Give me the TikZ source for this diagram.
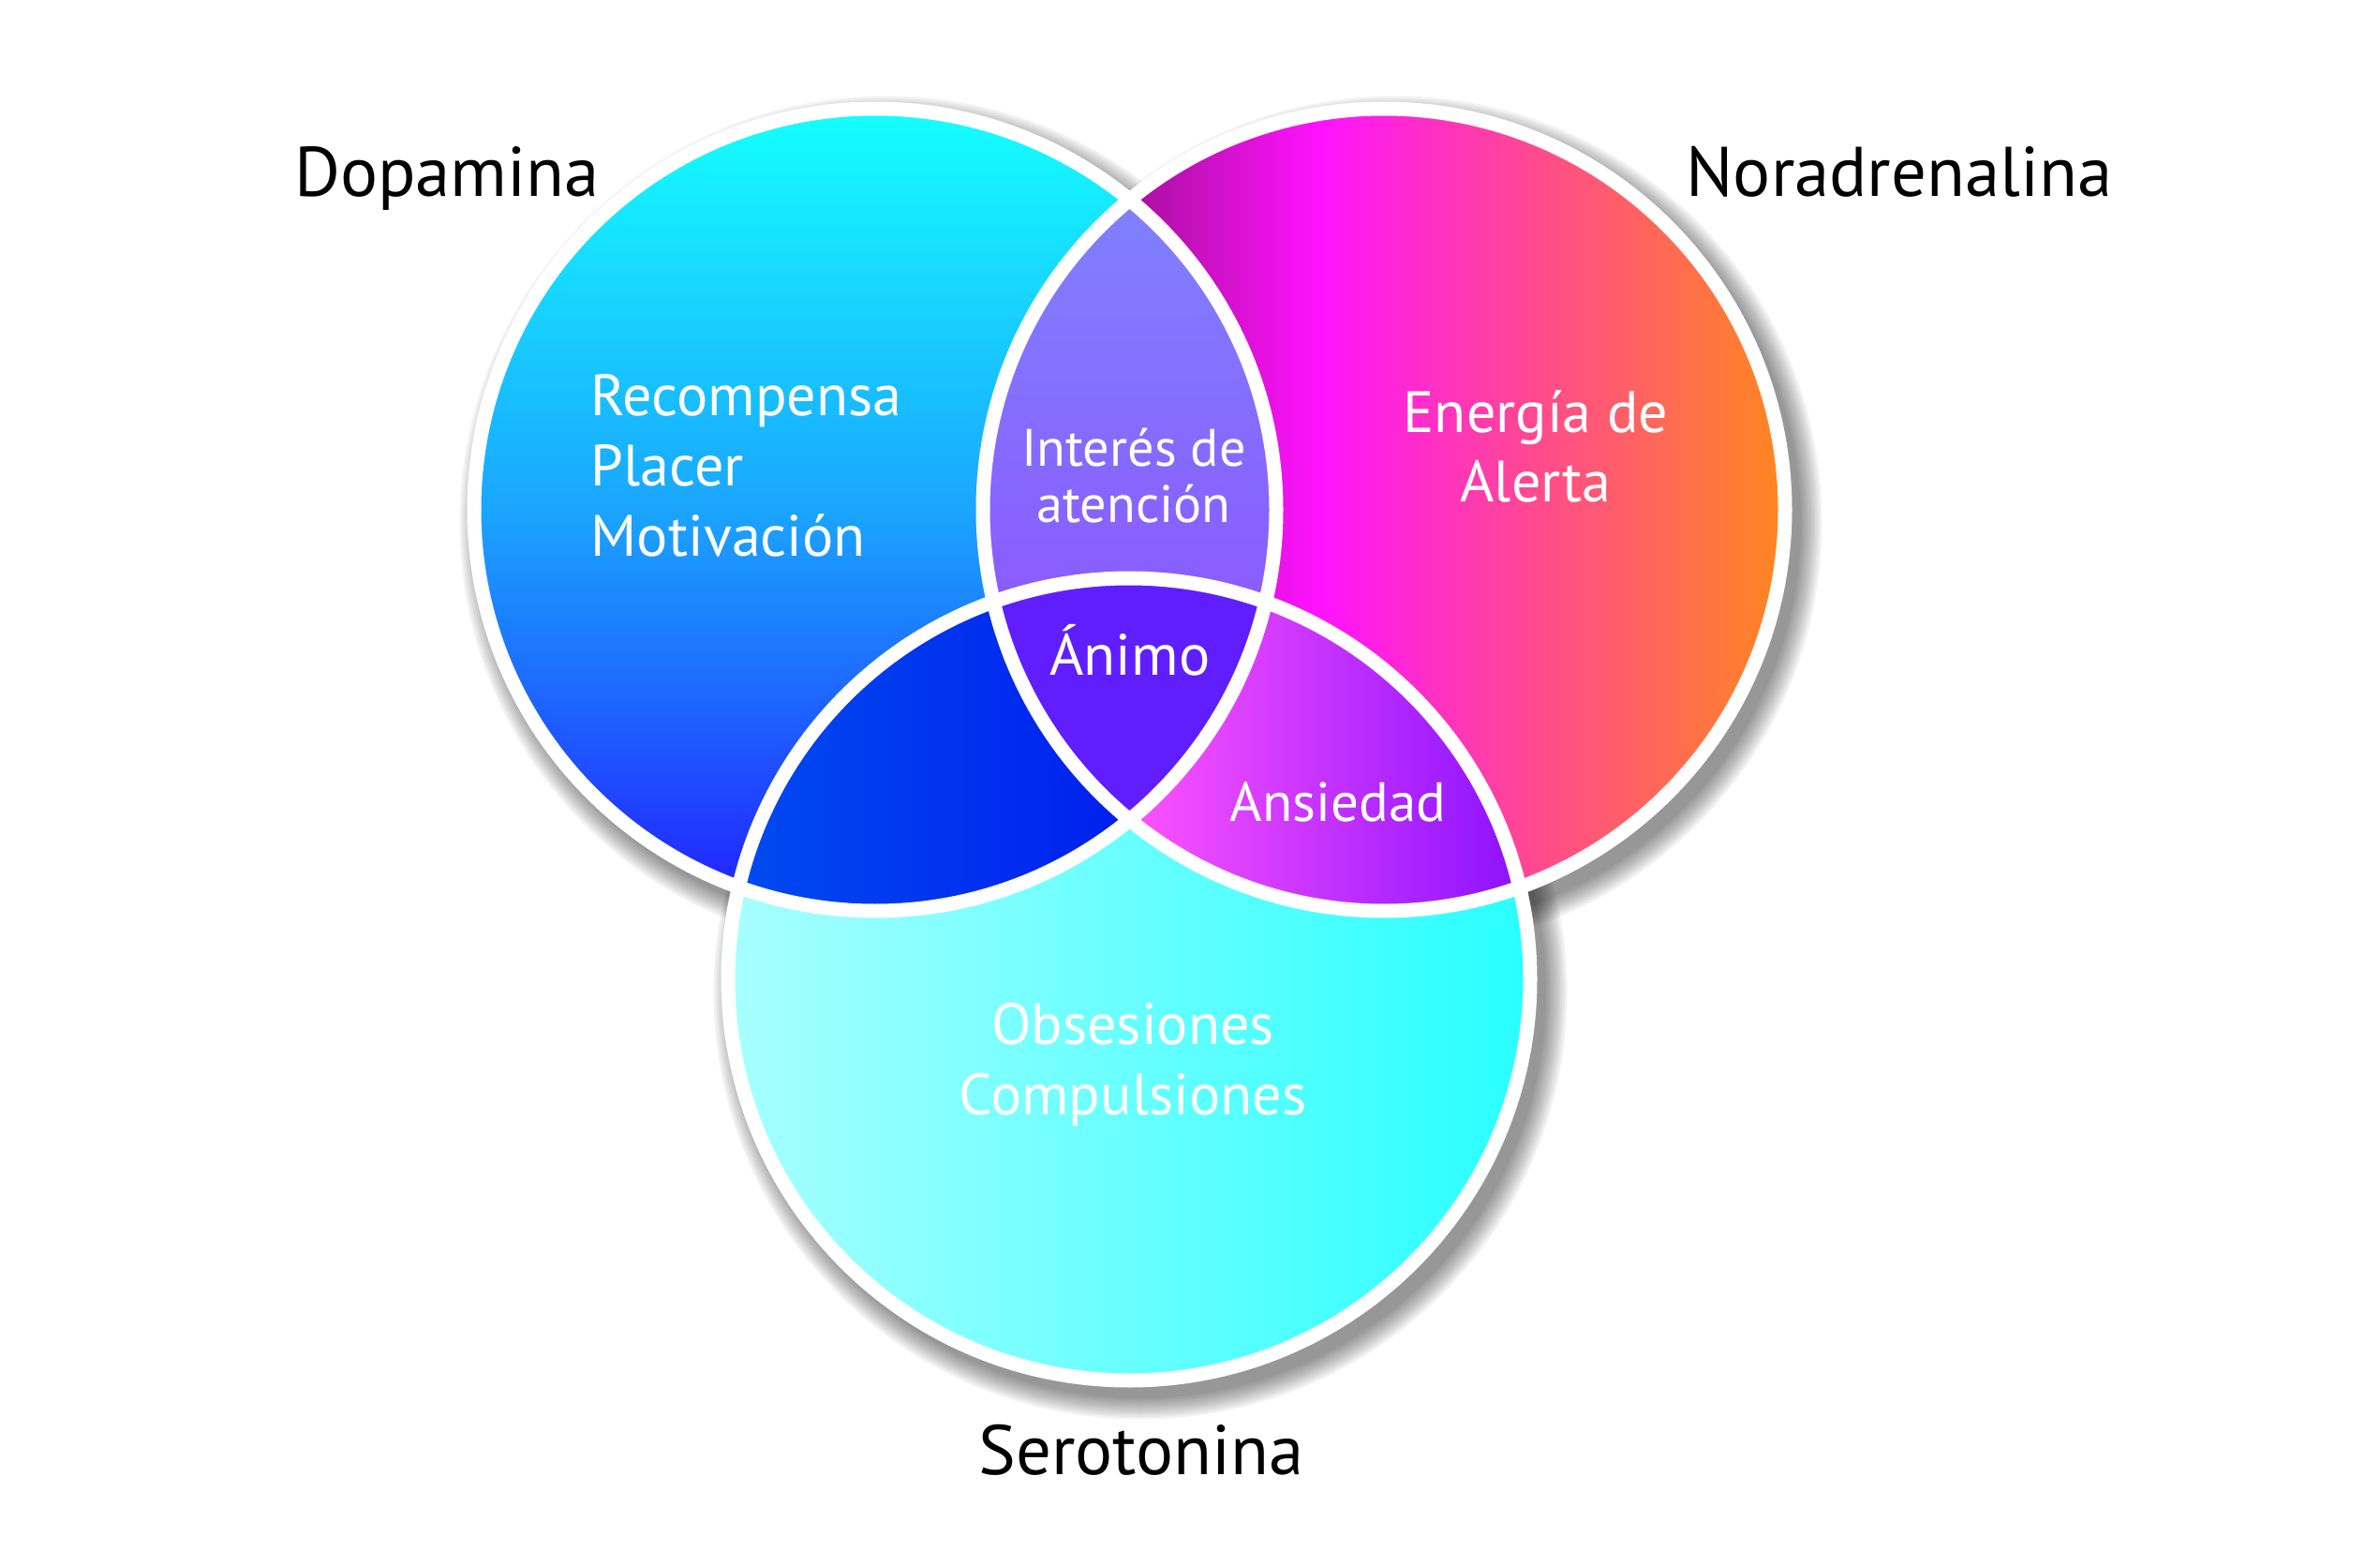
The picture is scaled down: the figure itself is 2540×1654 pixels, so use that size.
\documentclass[tikz,border=0pt]{standalone}
\usepackage{fontspec}
\setmainfont{PT Sans}

\definecolor{dopTop}{RGB}{20,255,255}
\definecolor{dopMid}{RGB}{26,165,255}
\definecolor{dopBot}{RGB}{34,30,255}
\definecolor{norA}{RGB}{140,16,150}
\definecolor{norB}{RGB}{178,16,168}
\definecolor{norC}{RGB}{255,18,255}
\definecolor{norD}{RGB}{255,70,150}
\definecolor{norE}{RGB}{255,135,30}
\definecolor{serL}{RGB}{168,255,255}
\definecolor{serR}{RGB}{40,255,255}
\definecolor{upTop}{RGB}{128,128,255}
\definecolor{upBot}{RGB}{144,72,255}
\definecolor{leftL}{RGB}{0,76,240}
\definecolor{leftR}{RGB}{0,30,238}
\definecolor{rightL}{RGB}{255,84,255}
\definecolor{rightR}{RGB}{136,16,255}
\definecolor{core}{RGB}{96,30,255}

\pgfdeclarehorizontalshading{norshade}{100bp}{color(0bp)=(norA); color(25bp)=(norA);
  color(35.5bp)=(norB); color(46bp)=(norC); color(58.5bp)=(norD); color(75bp)=(norE); color(100bp)=(norE)}

\begin{document}
\begin{tikzpicture}[x=0.1mm,y=0.1mm,declare function={rc=428;},
    ring/.style={draw=white,line width=1.5mm},
    transmisor/.style={font=\fontsize{21.3}{25}\selectfont,inner sep=0pt,anchor=base},
    efecto/.style={font=\fontsize{17.7}{21}\selectfont,text=white,inner sep=0pt,anchor=base},
    efectochico/.style={efecto,font=\fontsize{16}{19}\selectfont}]
  \useasboundingbox (0,0) rectangle (2540,1654);
  \coordinate (dop) at (934,1110);
  \coordinate (nor) at (1477,1110);
  \coordinate (ser) at (1205,609);

  % soft shadows
  \foreach \c in {dop,nor,ser}{%
    \foreach \k in {1,...,10}
      \fill[black,opacity=0.05] ([shift={(12,-14)}]\c) circle ({rc+30-2.5*\k});
  }

  % circles
  \shade[top color=dopTop,bottom color=dopBot,middle color=dopMid] (dop) circle (rc);
  \shade[shading=norshade] (nor) circle (rc);
  \shade[left color=serL,right color=serR] (ser) circle (rc);

  % overlaps
  \begin{scope}
    \clip (dop) circle (rc); \clip (ser) circle (rc);
    \shade[left color=leftL,right color=leftR] (777,682) rectangle (1210,1040);
  \end{scope}
  \begin{scope}
    \clip (nor) circle (rc); \clip (ser) circle (rc);
    \shade[left color=rightL,right color=rightR] (1200,682) rectangle (1633,1040);
  \end{scope}
  \begin{scope}
    \clip (dop) circle (rc); \clip (nor) circle (rc);
    \shade[top color=upTop,bottom color=upBot] (1049,779) rectangle (1362,1441);
    \clip (ser) circle (rc);
    \fill[core] (1049,682) rectangle (1362,1040);
  \end{scope}

  \foreach \c in {dop,nor,ser}
    \draw[ring] (\c) circle (rc);

  % names
  \node[transmisor] (dopamina) at (477,1444) {Dopamina};
  \node[transmisor] (noradrenalina) at (2027,1444) {Noradrenalina};
  \node[transmisor] (serotonina) at (1218,81) {Serotonina};

  % effects
  \foreach \n/\y/\t in {rec/1210/Recompensa, pla/1135/Placer, mot/1060/Motivación}
    \node[efecto,anchor=base west] (\n) at (630,\y) {\t};
  \foreach \n/\x/\y/\t in {ene/1639/1192/Energía de, ale/1639/1119/Alerta,
      ani/1206/934/Ánimo, obs/1209/540/Obsesiones, com/1209/465/Compulsiones}
    \node[efecto] (\n) at (\x,\y) {\t};
  \node[efecto,font=\fontsize{16.8}{20}\selectfont] (ans) at (1428,778) {Ansiedad};
  \node[efectochico] (int) at (1210,1157) {Interés de};
  \node[efectochico] (ate) at (1210,1097) {atención};
\end{tikzpicture}
\end{document}
